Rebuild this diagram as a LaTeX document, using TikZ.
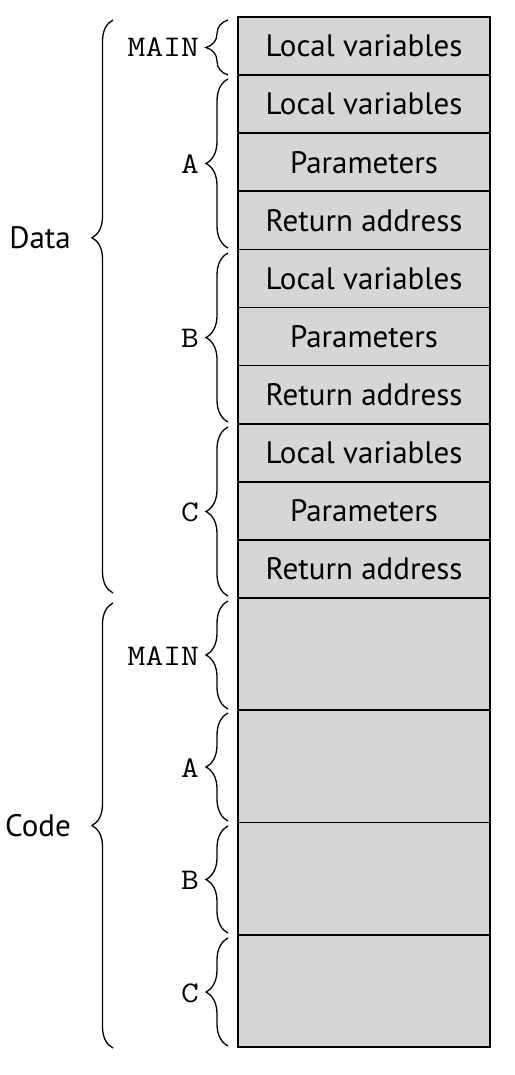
\documentclass[tikz,border=0pt]{standalone}
\usepackage{graphicx}
\usepackage{fontspec}
\setsansfont{PT Sans}
\usetikzlibrary{decorations.pathreplacing}
\newcommand{\mylab}[1]{\scalebox{1.15}[1]{\ttfamily\fontsize{30}{32}\selectfont #1}}
\begin{document}
\begin{tikzpicture}[x=1pt,y=-1pt,
  cell/.style={draw=black, line width=1.6pt, fill=black!16, minimum width=252pt, inner sep=0pt,
     font=\sffamily\fontsize{31}{34}\selectfont},
  drow/.style={cell, minimum height=58.1pt},
  crow/.style={cell, minimum height=112.25pt},
  lab/.style={anchor=east, inner sep=0pt},
  biglab/.style={anchor=east, inner sep=0pt, font=\sffamily\fontsize{31}{34}\selectfont},
  sbrace/.style={decorate, line width=1.3pt, decoration={brace, amplitude=22pt}},
  bbrace/.style={decorate, line width=1.3pt, decoration={brace, amplitude=21pt}}]
\useasboundingbox (0,0) rectangle (514,1075);
% data rows
\node[drow] (d1) at (364,46.05) {Local variables};
\node[drow] (d2) at (364,104.15) {Local variables};
\node[drow] (d3) at (364,162.25) {Parameters};
\node[drow] (d4) at (364,220.35) {Return address};
\node[drow] (d5) at (364,278.45) {Local variables};
\node[drow] (d6) at (364,336.55) {Parameters};
\node[drow] (d7) at (364,394.65) {Return address};
\node[drow] (d8) at (364,452.75) {Local variables};
\node[drow] (d9) at (364,510.85) {Parameters};
\node[drow] (d10) at (364,568.95) {Return address};
% code rows
\node[crow] (c1) at (364,654.1) {};
\node[crow] (c2) at (364,766.4) {};
\node[crow] (c3) at (364,878.6) {};
\node[crow] (c4) at (364,990.9) {};
% small braces data
\draw[sbrace] (228,75) -- (228,20);
\draw[sbrace] (228,248) -- (228,79);
\draw[sbrace] (228,422) -- (228,253);
\draw[sbrace] (228,596) -- (228,427);
% small braces code
\draw[sbrace] (228,709) -- (228,601);
\draw[sbrace] (228,821) -- (228,713);
\draw[sbrace] (228,933) -- (228,826);
\draw[sbrace] (228,1046) -- (228,938);
% big braces
\draw[bbrace, decoration={aspect=0.62}] (113,593) -- (113,20);
\draw[bbrace] (113,1048) -- (113,603);
% labels
\node[lab] (lm) at (199,47) {\mylab{MAIN}};
\node[lab] (la) at (199,164) {\mylab{A}};
\node[lab] (lb) at (199,338) {\mylab{B}};
\node[lab] (lc) at (199,512) {\mylab{C}};
\node[lab] (lm2) at (199,656) {\mylab{MAIN}};
\node[lab] (la2) at (199,768) {\mylab{A}};
\node[lab] (lb2) at (199,880) {\mylab{B}};
\node[lab] (lc2) at (199,993) {\mylab{C}};
\node[biglab] (ldata) at (71,238) {Data};
\node[biglab] (lcode) at (71,826) {Code};
\end{tikzpicture}
\end{document}
